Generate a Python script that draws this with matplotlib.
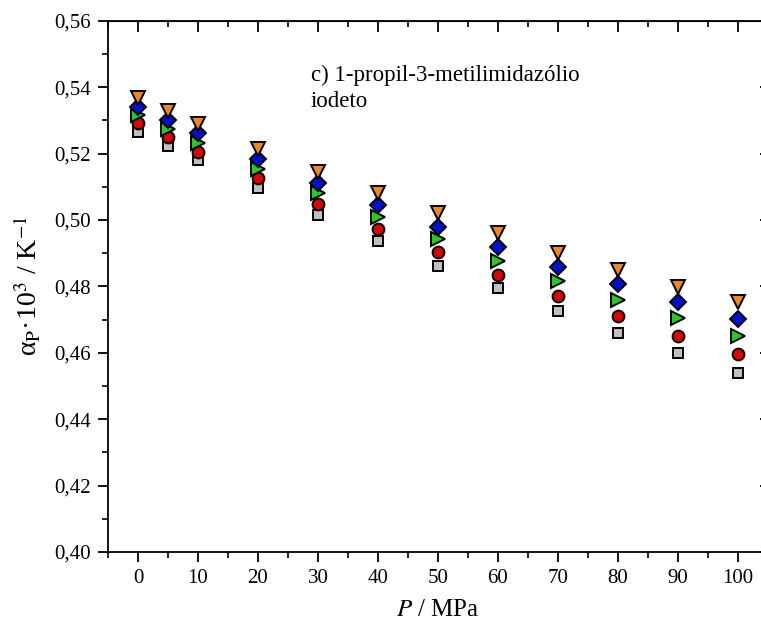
import matplotlib
matplotlib.use("Agg")
import matplotlib.pyplot as plt
from matplotlib.ticker import MultipleLocator, FuncFormatter

plt.rcParams['font.family'] = ['Liberation Serif', 'DejaVu Serif']
plt.rcParams['mathtext.fontset'] = 'stix'

pressure = [0, 5, 10, 20, 30, 40, 50, 60, 70, 80, 90, 100]
s_square = [0.5266, 0.5223, 0.5181, 0.5095, 0.5014, 0.4937, 0.4862, 0.4794, 0.4726, 0.4661, 0.4600, 0.4540]
s_circle = [0.5291, 0.5249, 0.5206, 0.5125, 0.5048, 0.4972, 0.4902, 0.4835, 0.4771, 0.4711, 0.4651, 0.4596]
s_right = [0.5316, 0.5273, 0.5233, 0.5153, 0.5080, 0.5010, 0.4942, 0.4877, 0.4816, 0.4758, 0.4704, 0.4650]
s_diamond = [0.5339, 0.5301, 0.5261, 0.5184, 0.5112, 0.5045, 0.4980, 0.4918, 0.4859, 0.4806, 0.4754, 0.4702]
s_down = [0.5367, 0.5327, 0.5288, 0.5214, 0.5145, 0.5080, 0.5020, 0.4960, 0.4901, 0.4849, 0.4799, 0.4752]

fig = plt.figure(figsize=(7.61, 6.35), dpi=100)
ax = fig.add_axes([108/761, (635-552)/635, 660/761, (552-20.7)/635])

series = [
    (s_square, 's', '#c0c0c0', 7.5),
    (s_circle, 'o', '#e00000', 8.5),
    (s_right, '>', '#22cc22', 9.5),
    (s_diamond, 'D', '#0010d0', 8.0),
    (s_down, 'v', '#f0881e', 10.0),
]
for vals, m, c, ms in series:
    ax.plot(pressure, vals, linestyle='none', marker=m, markersize=ms,
            markerfacecolor=c, markeredgecolor='black', markeredgewidth=1.4)

ax.set_xlim(-5, 105)
ax.set_ylim(0.40, 0.56)
ax.xaxis.set_major_locator(MultipleLocator(10))
ax.xaxis.set_minor_locator(MultipleLocator(5))
ax.yaxis.set_major_locator(MultipleLocator(0.02))
ax.yaxis.set_minor_locator(MultipleLocator(0.01))
ax.yaxis.set_major_formatter(FuncFormatter(lambda v, p: f'{v:.2f}'.replace('.', ',')))
ax.tick_params(which='major', direction='out', length=7, width=1.3, labelsize=15, pad=5)
ax.tick_params(which='minor', direction='out', length=4, width=1.2)
for sp in ax.spines.values():
    sp.set_linewidth(1.3)

# top and right ticks pointing inward
secx = ax.secondary_xaxis('top')
secx.xaxis.set_major_locator(MultipleLocator(10))
secx.xaxis.set_minor_locator(MultipleLocator(5))
secx.tick_params(which='major', direction='in', length=8, width=1.3, labeltop=False)
secx.tick_params(which='minor', direction='in', length=4, width=1.2)
secy = ax.secondary_yaxis('right')
secy.yaxis.set_major_locator(MultipleLocator(0.02))
secy.yaxis.set_minor_locator(MultipleLocator(0.01))
secy.tick_params(which='major', direction='in', length=6, width=1.3, labelright=False)
secy.tick_params(which='minor', direction='in', length=0)

ax.set_xlabel(r'$P$ / MPa', fontsize=18, labelpad=8)
ax.set_ylabel('α' + r'$_{\mathrm{P}}$' + '·10' + r'$^{3}$' + ' / K' + r'$^{-1}$',
              fontsize=20, labelpad=8)

ax.text(28.8, 0.5468, 'c) 1-propil-3-metilimidazólio\niodeto', fontsize=16.5,
        ha='left', va='top', linespacing=1.3)

fig.savefig('out.png', dpi=100)
